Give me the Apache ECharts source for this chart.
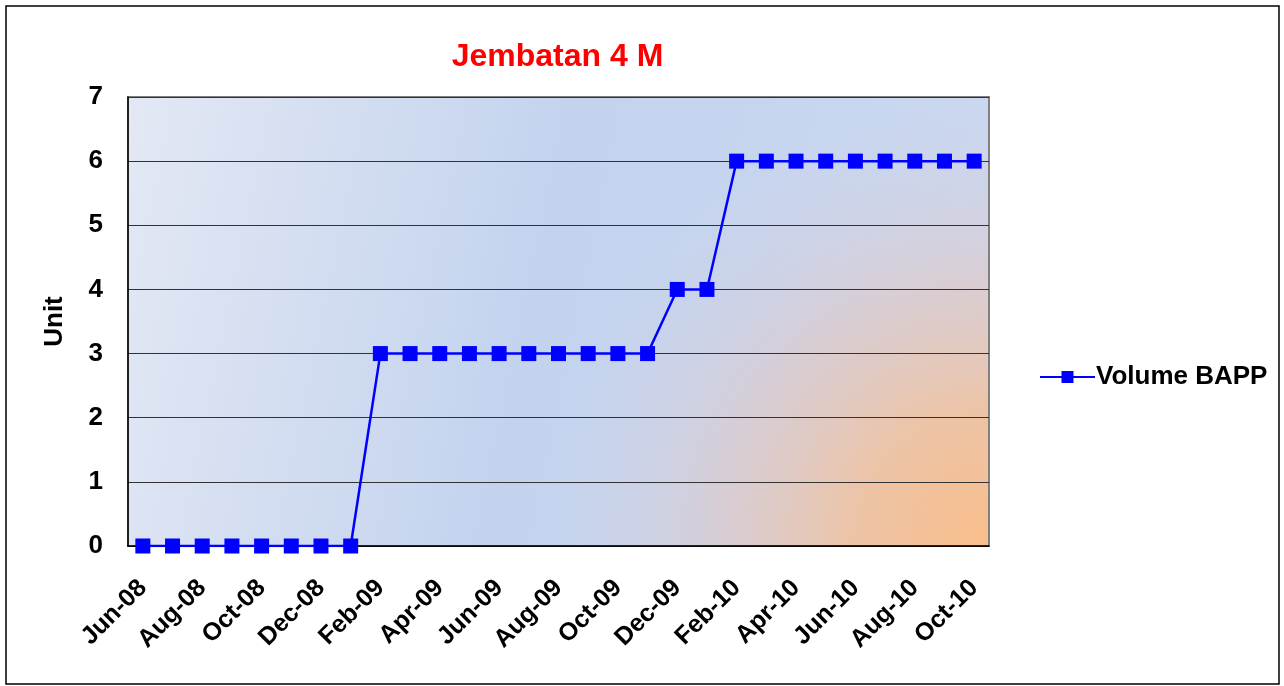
<!DOCTYPE html>
<html>
<head>
<meta charset="utf-8">
<script src="https://cdn.jsdelivr.net/npm/echarts@6/dist/echarts.min.js"></script>
<style>
  html, body { margin: 0; padding: 0; background: #fff; }
  #chart { width: 1284px; height: 686px; }
</style>
</head>
<body>
<div id="chart"></div>
<script>
// data
const months = [
  'Jun-08', 'Jul-08', 'Aug-08', 'Sep-08', 'Oct-08', 'Nov-08', 'Dec-08', 'Jan-09',
  'Feb-09', 'Mar-09', 'Apr-09', 'May-09', 'Jun-09', 'Jul-09', 'Aug-09', 'Sep-09',
  'Oct-09', 'Nov-09', 'Dec-09', 'Jan-10', 'Feb-10', 'Mar-10', 'Apr-10', 'May-10',
  'Jun-10', 'Jul-10', 'Aug-10', 'Sep-10', 'Oct-10'
]
const volumeBapp = [
  0, 0, 0, 0, 0, 0, 0, 0,
  3, 3, 3, 3, 3, 3, 3, 3, 3, 3,
  4, 4,
  6, 6, 6, 6, 6, 6, 6, 6, 6
]
const yTicks = [0, 1, 2, 3, 4, 5, 6, 7]

const chart = echarts.init(document.getElementById('chart'))

// plot area box
const plot = { left: 128, top: 97, right: 295, bottom: 140 }
const plotW = 1284 - plot.left - plot.right
const plotH = 686 - plot.top - plot.bottom

const font = 'Liberation Sans, Arial, sans-serif'

const option = {
  backgroundColor: '#ffffff',
  animation: false,
  title: {
    text: 'Jembatan 4 M',
    left: plot.left + plotW / 2 - 6,
    textAlign: 'center',
    top: 36,
    textStyle: { color: '#ff0000', fontSize: 32, fontWeight: 'bold', fontFamily: font }
  },
  graphic: [
    {
      type: 'rect', z: -10, silent: true,
      shape: { x: plot.left, y: plot.top, width: plotW, height: plotH },
      style: {
        fill: new echarts.graphic.LinearGradient(0, 0, 1, 0.4, [
          { offset: 0, color: '#e3e8f4' },
          { offset: 0.5, color: '#c3d3ee' },
          { offset: 1, color: '#cbd8f0' }
        ])
      }
    },
    {
      type: 'rect', z: -9, silent: true,
      shape: { x: plot.left, y: plot.top, width: plotW, height: plotH },
      style: {
        fill: new echarts.graphic.RadialGradient(1, 1, 1.0, [
          { offset: 0, color: 'rgba(250,190,138,1)' },
          { offset: 0.3, color: 'rgba(240,194,160,0.92)' },
          { offset: 0.6, color: 'rgba(224,201,198,0.65)' },
          { offset: 0.85, color: 'rgba(212,206,220,0.25)' },
          { offset: 1, color: 'rgba(210,210,225,0)' }
        ])
      }
    },
    {
      type: 'rect', z: 10, silent: true,
      shape: { x: 6, y: 6, width: 1273, height: 678 },
      style: { fill: 'none', stroke: '#000', lineWidth: 1.5 }
    }
  ],
  grid: {
    left: plot.left,
    top: plot.top,
    right: plot.right,
    bottom: plot.bottom,
    show: true,
    backgroundColor: 'transparent',
    borderColor: '#808080',
    borderWidth: 2
  },
  legend: {
    data: ['Volume BAPP'],
    left: 1034,
    top: 359,
    itemWidth: 55,
    itemHeight: 15,
    itemGap: 0,
    textStyle: { color: '#000', fontSize: 26, fontWeight: 'bold', fontFamily: font, padding: [0, 0, 0, -4] }
  },
  xAxis: {
    type: 'category',
    data: months,
    boundaryGap: true,
    axisLine: { show: true, lineStyle: { color: '#000', width: 1.5 } },
    axisTick: { show: false },
    axisLabel: {
      interval: 1,
      rotate: 45,
      margin: 38,
      color: '#000',
      fontSize: 25,
      fontWeight: 'bold',
      fontFamily: font
    },
    splitLine: { show: false }
  },
  yAxis: {
    type: 'value',
    min: yTicks[0],
    max: yTicks[yTicks.length - 1],
    interval: 1,
    name: 'Unit',
    nameLocation: 'middle',
    nameGap: 60,
    nameRotate: 90,
    nameTextStyle: { color: '#000', fontSize: 26, fontWeight: 'bold', fontFamily: font },
    axisLine: { show: true, lineStyle: { color: '#000', width: 1.5 } },
    axisTick: { show: false },
    axisLabel: {
      margin: 25,
      color: '#000',
      fontSize: 26,
      fontWeight: 'bold',
      fontFamily: font
    },
    splitLine: { show: true, lineStyle: { color: '#333', width: 1.2 } }
  },
  series: [
    {
      name: 'Volume BAPP',
      type: 'line',
      data: volumeBapp,
      symbol: 'rect',
      symbolSize: 15,
      lineStyle: { color: '#0000ff', width: 2.5 },
      itemStyle: { color: '#0000ff', borderWidth: 0 },
      z: 5
    }
  ]
}

chart.setOption(option)
</script>
</body>
</html>
